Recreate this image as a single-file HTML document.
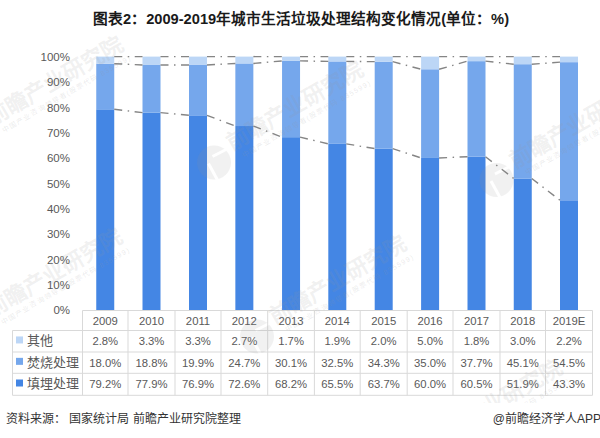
<!DOCTYPE html>
<html lang="zh-CN"><head><meta charset="utf-8">
<style>
html,body{margin:0;padding:0;background:#fff;}
body{width:600px;height:438px;overflow:hidden;position:relative;font-family:"Liberation Sans",sans-serif;}
.title .c{font-weight:600;}
.title{position:absolute;left:1px;top:9px;width:600px;text-align:center;font-weight:bold;font-size:14.67px;color:#1a1a1a;line-height:20px;white-space:nowrap;}
svg{position:absolute;left:0;top:0;}
.ax{font-family:"Liberation Sans",sans-serif;font-size:11.5px;fill:#595959;}
.tb{font-family:"Liberation Sans",sans-serif;font-size:11.3px;fill:#595959;}
.lg{font-family:"Liberation Sans",sans-serif;font-size:13px;fill:#595959;}
.wm{}
.wmc{fill:rgb(150,150,150);fill-opacity:0.13;}
.wmt{font-size:22px;font-weight:bold;fill:rgb(150,150,150);fill-opacity:0.14;}
.wms{font-size:7px;letter-spacing:1.2px;fill:rgb(150,150,150);fill-opacity:0.2;}
.src{position:absolute;left:6px;top:411px;font-size:12px;color:#333;white-space:nowrap;line-height:16px;}
.app{position:absolute;right:-1px;top:411px;font-size:12px;color:#333;white-space:nowrap;line-height:16px;}
</style></head><body>
<div class="title"><span class="c">图表</span>2<span class="c">：</span>2009-2019<span class="c">年城市生活垃圾处理结构变化情况</span>(<span class="c">单位：</span>%)</div>
<svg width="600" height="438" viewBox="0 0 600 438">
<defs><clipPath id="wclip"><rect x="0" y="0" width="600" height="403"/></clipPath></defs>
<rect x="96.25" y="109.31" width="18.0" height="200.69" fill="#4486E4"/>
<rect x="96.25" y="63.70" width="18.0" height="45.61" fill="#75A7EC"/>
<rect x="96.25" y="56.60" width="18.0" height="7.10" fill="#BCD6F6"/>
<rect x="142.50" y="112.60" width="18.0" height="197.40" fill="#4486E4"/>
<rect x="142.50" y="64.96" width="18.0" height="47.64" fill="#75A7EC"/>
<rect x="142.50" y="56.60" width="18.0" height="8.36" fill="#BCD6F6"/>
<rect x="189.00" y="115.33" width="18.0" height="194.67" fill="#4486E4"/>
<rect x="189.00" y="64.95" width="18.0" height="50.38" fill="#75A7EC"/>
<rect x="189.00" y="56.60" width="18.0" height="8.35" fill="#BCD6F6"/>
<rect x="235.35" y="126.03" width="18.0" height="183.97" fill="#4486E4"/>
<rect x="235.35" y="63.44" width="18.0" height="62.59" fill="#75A7EC"/>
<rect x="235.35" y="56.60" width="18.0" height="6.84" fill="#BCD6F6"/>
<rect x="282.05" y="137.18" width="18.0" height="172.82" fill="#4486E4"/>
<rect x="282.05" y="60.91" width="18.0" height="76.27" fill="#75A7EC"/>
<rect x="282.05" y="56.60" width="18.0" height="4.31" fill="#BCD6F6"/>
<rect x="328.30" y="143.86" width="18.0" height="166.14" fill="#4486E4"/>
<rect x="328.30" y="61.42" width="18.0" height="82.44" fill="#75A7EC"/>
<rect x="328.30" y="56.60" width="18.0" height="4.82" fill="#BCD6F6"/>
<rect x="374.70" y="148.58" width="18.0" height="161.42" fill="#4486E4"/>
<rect x="374.70" y="61.67" width="18.0" height="86.92" fill="#75A7EC"/>
<rect x="374.70" y="56.60" width="18.0" height="5.07" fill="#BCD6F6"/>
<rect x="421.10" y="157.96" width="18.0" height="152.04" fill="#4486E4"/>
<rect x="421.10" y="69.27" width="18.0" height="88.69" fill="#75A7EC"/>
<rect x="421.10" y="56.60" width="18.0" height="12.67" fill="#BCD6F6"/>
<rect x="467.50" y="156.69" width="18.0" height="153.31" fill="#4486E4"/>
<rect x="467.50" y="61.16" width="18.0" height="95.53" fill="#75A7EC"/>
<rect x="467.50" y="56.60" width="18.0" height="4.56" fill="#BCD6F6"/>
<rect x="513.75" y="178.49" width="18.0" height="131.51" fill="#4486E4"/>
<rect x="513.75" y="64.20" width="18.0" height="114.28" fill="#75A7EC"/>
<rect x="513.75" y="56.60" width="18.0" height="7.60" fill="#BCD6F6"/>
<rect x="560.00" y="200.28" width="18.0" height="109.72" fill="#4486E4"/>
<rect x="560.00" y="62.17" width="18.0" height="138.10" fill="#75A7EC"/>
<rect x="560.00" y="56.60" width="18.0" height="5.57" fill="#BCD6F6"/>
<line x1="114.25" y1="109.31" x2="142.50" y2="112.60" stroke="#858585" stroke-width="1.4" stroke-dasharray="8 5.5 1.5 5.5"/>
<line x1="114.25" y1="63.70" x2="142.50" y2="64.96" stroke="#858585" stroke-width="1.4" stroke-dasharray="8 5.5 1.5 5.5"/>
<line x1="114.25" y1="56.60" x2="142.50" y2="56.60" stroke="#858585" stroke-width="1.4" stroke-dasharray="8 5.5 1.5 5.5"/>
<line x1="160.50" y1="112.60" x2="189.00" y2="115.33" stroke="#858585" stroke-width="1.4" stroke-dasharray="8 5.5 1.5 5.5"/>
<line x1="160.50" y1="64.96" x2="189.00" y2="64.95" stroke="#858585" stroke-width="1.4" stroke-dasharray="8 5.5 1.5 5.5"/>
<line x1="160.50" y1="56.60" x2="189.00" y2="56.60" stroke="#858585" stroke-width="1.4" stroke-dasharray="8 5.5 1.5 5.5"/>
<line x1="207.00" y1="115.33" x2="235.35" y2="126.03" stroke="#858585" stroke-width="1.4" stroke-dasharray="8 5.5 1.5 5.5"/>
<line x1="207.00" y1="64.95" x2="235.35" y2="63.44" stroke="#858585" stroke-width="1.4" stroke-dasharray="8 5.5 1.5 5.5"/>
<line x1="207.00" y1="56.60" x2="235.35" y2="56.60" stroke="#858585" stroke-width="1.4" stroke-dasharray="8 5.5 1.5 5.5"/>
<line x1="253.35" y1="126.03" x2="282.05" y2="137.18" stroke="#858585" stroke-width="1.4" stroke-dasharray="8 5.5 1.5 5.5"/>
<line x1="253.35" y1="63.44" x2="282.05" y2="60.91" stroke="#858585" stroke-width="1.4" stroke-dasharray="8 5.5 1.5 5.5"/>
<line x1="253.35" y1="56.60" x2="282.05" y2="56.60" stroke="#858585" stroke-width="1.4" stroke-dasharray="8 5.5 1.5 5.5"/>
<line x1="300.05" y1="137.18" x2="328.30" y2="143.86" stroke="#858585" stroke-width="1.4" stroke-dasharray="8 5.5 1.5 5.5"/>
<line x1="300.05" y1="60.91" x2="328.30" y2="61.42" stroke="#858585" stroke-width="1.4" stroke-dasharray="8 5.5 1.5 5.5"/>
<line x1="300.05" y1="56.60" x2="328.30" y2="56.60" stroke="#858585" stroke-width="1.4" stroke-dasharray="8 5.5 1.5 5.5"/>
<line x1="346.30" y1="143.86" x2="374.70" y2="148.58" stroke="#858585" stroke-width="1.4" stroke-dasharray="8 5.5 1.5 5.5"/>
<line x1="346.30" y1="61.42" x2="374.70" y2="61.67" stroke="#858585" stroke-width="1.4" stroke-dasharray="8 5.5 1.5 5.5"/>
<line x1="346.30" y1="56.60" x2="374.70" y2="56.60" stroke="#858585" stroke-width="1.4" stroke-dasharray="8 5.5 1.5 5.5"/>
<line x1="392.70" y1="148.58" x2="421.10" y2="157.96" stroke="#858585" stroke-width="1.4" stroke-dasharray="8 5.5 1.5 5.5"/>
<line x1="392.70" y1="61.67" x2="421.10" y2="69.27" stroke="#858585" stroke-width="1.4" stroke-dasharray="8 5.5 1.5 5.5"/>
<line x1="392.70" y1="56.60" x2="421.10" y2="56.60" stroke="#858585" stroke-width="1.4" stroke-dasharray="8 5.5 1.5 5.5"/>
<line x1="439.10" y1="157.96" x2="467.50" y2="156.69" stroke="#858585" stroke-width="1.4" stroke-dasharray="8 5.5 1.5 5.5"/>
<line x1="439.10" y1="69.27" x2="467.50" y2="61.16" stroke="#858585" stroke-width="1.4" stroke-dasharray="8 5.5 1.5 5.5"/>
<line x1="439.10" y1="56.60" x2="467.50" y2="56.60" stroke="#858585" stroke-width="1.4" stroke-dasharray="8 5.5 1.5 5.5"/>
<line x1="485.50" y1="156.69" x2="513.75" y2="178.49" stroke="#858585" stroke-width="1.4" stroke-dasharray="8 5.5 1.5 5.5"/>
<line x1="485.50" y1="61.16" x2="513.75" y2="64.20" stroke="#858585" stroke-width="1.4" stroke-dasharray="8 5.5 1.5 5.5"/>
<line x1="485.50" y1="56.60" x2="513.75" y2="56.60" stroke="#858585" stroke-width="1.4" stroke-dasharray="8 5.5 1.5 5.5"/>
<line x1="531.75" y1="178.49" x2="560.00" y2="200.28" stroke="#858585" stroke-width="1.4" stroke-dasharray="8 5.5 1.5 5.5"/>
<line x1="531.75" y1="64.20" x2="560.00" y2="62.17" stroke="#858585" stroke-width="1.4" stroke-dasharray="8 5.5 1.5 5.5"/>
<line x1="531.75" y1="56.60" x2="560.00" y2="56.60" stroke="#858585" stroke-width="1.4" stroke-dasharray="8 5.5 1.5 5.5"/>
<text x="70" y="314.40" text-anchor="end" class="ax">0%</text>
<text x="70" y="289.06" text-anchor="end" class="ax">10%</text>
<text x="70" y="263.72" text-anchor="end" class="ax">20%</text>
<text x="70" y="238.38" text-anchor="end" class="ax">30%</text>
<text x="70" y="213.04" text-anchor="end" class="ax">40%</text>
<text x="70" y="187.70" text-anchor="end" class="ax">50%</text>
<text x="70" y="162.36" text-anchor="end" class="ax">60%</text>
<text x="70" y="137.02" text-anchor="end" class="ax">70%</text>
<text x="70" y="111.68" text-anchor="end" class="ax">80%</text>
<text x="70" y="86.34" text-anchor="end" class="ax">90%</text>
<text x="70" y="61.00" text-anchor="end" class="ax">100%</text>
<line x1="82.5" y1="310.5" x2="592.5" y2="310.5" stroke="#D9D9D9" stroke-width="1"/>
<line x1="12.5" y1="330.5" x2="592.5" y2="330.5" stroke="#D9D9D9" stroke-width="1"/>
<line x1="12.5" y1="352.0" x2="592.5" y2="352.0" stroke="#D9D9D9" stroke-width="1"/>
<line x1="12.5" y1="373.3" x2="592.5" y2="373.3" stroke="#D9D9D9" stroke-width="1"/>
<line x1="12.5" y1="395.3" x2="592.5" y2="395.3" stroke="#D9D9D9" stroke-width="1"/>
<line x1="12.5" y1="330.5" x2="12.5" y2="395.3" stroke="#D9D9D9" stroke-width="1"/>
<line x1="82.50" y1="310.5" x2="82.50" y2="395.3" stroke="#D9D9D9" stroke-width="1"/>
<line x1="128.00" y1="310.5" x2="128.00" y2="395.3" stroke="#D9D9D9" stroke-width="1"/>
<line x1="175.00" y1="310.5" x2="175.00" y2="395.3" stroke="#D9D9D9" stroke-width="1"/>
<line x1="221.00" y1="310.5" x2="221.00" y2="395.3" stroke="#D9D9D9" stroke-width="1"/>
<line x1="267.70" y1="310.5" x2="267.70" y2="395.3" stroke="#D9D9D9" stroke-width="1"/>
<line x1="314.40" y1="310.5" x2="314.40" y2="395.3" stroke="#D9D9D9" stroke-width="1"/>
<line x1="360.20" y1="310.5" x2="360.20" y2="395.3" stroke="#D9D9D9" stroke-width="1"/>
<line x1="407.20" y1="310.5" x2="407.20" y2="395.3" stroke="#D9D9D9" stroke-width="1"/>
<line x1="453.00" y1="310.5" x2="453.00" y2="395.3" stroke="#D9D9D9" stroke-width="1"/>
<line x1="500.00" y1="310.5" x2="500.00" y2="395.3" stroke="#D9D9D9" stroke-width="1"/>
<line x1="545.50" y1="310.5" x2="545.50" y2="395.3" stroke="#D9D9D9" stroke-width="1"/>
<line x1="592.50" y1="310.5" x2="592.50" y2="395.3" stroke="#D9D9D9" stroke-width="1"/>
<text x="105.25" y="324.50" text-anchor="middle" class="tb">2009</text>
<text x="151.50" y="324.50" text-anchor="middle" class="tb">2010</text>
<text x="198.00" y="324.50" text-anchor="middle" class="tb">2011</text>
<text x="244.35" y="324.50" text-anchor="middle" class="tb">2012</text>
<text x="291.05" y="324.50" text-anchor="middle" class="tb">2013</text>
<text x="337.30" y="324.50" text-anchor="middle" class="tb">2014</text>
<text x="383.70" y="324.50" text-anchor="middle" class="tb">2015</text>
<text x="430.10" y="324.50" text-anchor="middle" class="tb">2016</text>
<text x="476.50" y="324.50" text-anchor="middle" class="tb">2017</text>
<text x="522.75" y="324.50" text-anchor="middle" class="tb">2018</text>
<text x="569.00" y="324.50" text-anchor="middle" class="tb">2019E</text>
<rect x="16" y="336.45" width="7" height="7" fill="#BCD6F6"/>
<text x="27" y="345.25" class="lg">其他</text>
<text x="105.25" y="345.25" text-anchor="middle" class="tb">2.8%</text>
<text x="151.50" y="345.25" text-anchor="middle" class="tb">3.3%</text>
<text x="198.00" y="345.25" text-anchor="middle" class="tb">3.3%</text>
<text x="244.35" y="345.25" text-anchor="middle" class="tb">2.7%</text>
<text x="291.05" y="345.25" text-anchor="middle" class="tb">1.7%</text>
<text x="337.30" y="345.25" text-anchor="middle" class="tb">1.9%</text>
<text x="383.70" y="345.25" text-anchor="middle" class="tb">2.0%</text>
<text x="430.10" y="345.25" text-anchor="middle" class="tb">5.0%</text>
<text x="476.50" y="345.25" text-anchor="middle" class="tb">1.8%</text>
<text x="522.75" y="345.25" text-anchor="middle" class="tb">3.0%</text>
<text x="569.00" y="345.25" text-anchor="middle" class="tb">2.2%</text>
<rect x="16" y="357.85" width="7" height="7" fill="#75A7EC"/>
<text x="27" y="366.65" class="lg">焚烧处理</text>
<text x="105.25" y="366.65" text-anchor="middle" class="tb">18.0%</text>
<text x="151.50" y="366.65" text-anchor="middle" class="tb">18.8%</text>
<text x="198.00" y="366.65" text-anchor="middle" class="tb">19.9%</text>
<text x="244.35" y="366.65" text-anchor="middle" class="tb">24.7%</text>
<text x="291.05" y="366.65" text-anchor="middle" class="tb">30.1%</text>
<text x="337.30" y="366.65" text-anchor="middle" class="tb">32.5%</text>
<text x="383.70" y="366.65" text-anchor="middle" class="tb">34.3%</text>
<text x="430.10" y="366.65" text-anchor="middle" class="tb">35.0%</text>
<text x="476.50" y="366.65" text-anchor="middle" class="tb">37.7%</text>
<text x="522.75" y="366.65" text-anchor="middle" class="tb">45.1%</text>
<text x="569.00" y="366.65" text-anchor="middle" class="tb">54.5%</text>
<rect x="16" y="379.50" width="7" height="7" fill="#4486E4"/>
<text x="27" y="388.30" class="lg">填埋处理</text>
<text x="105.25" y="388.30" text-anchor="middle" class="tb">79.2%</text>
<text x="151.50" y="388.30" text-anchor="middle" class="tb">77.9%</text>
<text x="198.00" y="388.30" text-anchor="middle" class="tb">76.9%</text>
<text x="244.35" y="388.30" text-anchor="middle" class="tb">72.6%</text>
<text x="291.05" y="388.30" text-anchor="middle" class="tb">68.2%</text>
<text x="337.30" y="388.30" text-anchor="middle" class="tb">65.5%</text>
<text x="383.70" y="388.30" text-anchor="middle" class="tb">63.7%</text>
<text x="430.10" y="388.30" text-anchor="middle" class="tb">60.0%</text>
<text x="476.50" y="388.30" text-anchor="middle" class="tb">60.5%</text>
<text x="522.75" y="388.30" text-anchor="middle" class="tb">51.9%</text>
<text x="569.00" y="388.30" text-anchor="middle" class="tb">43.3%</text>
<g clip-path="url(#wclip)">
<mask id="wmn80_1260" maskUnits="userSpaceOnUse" x="0" y="0" width="600" height="438"><rect x="0" y="0" width="600" height="438" fill="#fff"/><path d="M-31.5,138.5 L-22.5,155.0 M-27.5,131.5 L-12.0,123.5" stroke="#000" stroke-width="3" fill="none"/></mask>
<circle cx="-26.0" cy="137.5" r="17" class="wmc" mask="url(#wmn80_1260)"/>
<g transform="translate(-8.0,126.0) rotate(-30)" class="wm">
<text x="0" y="0" class="wmt">前瞻产业研究院</text>
<text x="7" y="12" class="wms">中国产业咨询领导者(股票代码 835599)</text>
</g></g>
<g clip-path="url(#wclip)">
<mask id="wm2320_1510" maskUnits="userSpaceOnUse" x="0" y="0" width="600" height="438"><rect x="0" y="0" width="600" height="438" fill="#fff"/><path d="M208.5,163.5 L217.5,180.0 M212.5,156.5 L228.0,148.5" stroke="#000" stroke-width="3" fill="none"/></mask>
<circle cx="214.0" cy="162.5" r="17" class="wmc" mask="url(#wm2320_1510)"/>
<g transform="translate(232.0,151.0) rotate(-30)" class="wm">
<text x="0" y="0" class="wmt">前瞻产业研究院</text>
<text x="7" y="12" class="wms">中国产业咨询领导者(股票代码 835599)</text>
</g></g>
<g clip-path="url(#wclip)">
<mask id="wm5145_1685" maskUnits="userSpaceOnUse" x="0" y="0" width="600" height="438"><rect x="0" y="0" width="600" height="438" fill="#fff"/><path d="M491.0,181.0 L500.0,197.5 M495.0,174.0 L510.5,166.0" stroke="#000" stroke-width="3" fill="none"/></mask>
<circle cx="496.5" cy="180.0" r="17" class="wmc" mask="url(#wm5145_1685)"/>
<g transform="translate(514.5,168.5) rotate(-30)" class="wm">
<text x="0" y="0" class="wmt">前瞻产业研究院</text>
<text x="7" y="12" class="wms">中国产业咨询领导者(股票代码 835599)</text>
</g></g>
<g clip-path="url(#wclip)">
<mask id="wmn90_3180" maskUnits="userSpaceOnUse" x="0" y="0" width="600" height="438"><rect x="0" y="0" width="600" height="438" fill="#fff"/><path d="M-32.5,330.5 L-23.5,347.0 M-28.5,323.5 L-13.0,315.5" stroke="#000" stroke-width="3" fill="none"/></mask>
<circle cx="-27.0" cy="329.5" r="17" class="wmc" mask="url(#wmn90_3180)"/>
<g transform="translate(-9.0,318.0) rotate(-30)" class="wm">
<text x="0" y="0" class="wmt">前瞻产业研究院</text>
<text x="7" y="12" class="wms">中国产业咨询领导者(股票代码 835599)</text>
</g></g>
<g clip-path="url(#wclip)">
<mask id="wm2750_3250" maskUnits="userSpaceOnUse" x="0" y="0" width="600" height="438"><rect x="0" y="0" width="600" height="438" fill="#fff"/><path d="M251.5,337.5 L260.5,354.0 M255.5,330.5 L271.0,322.5" stroke="#000" stroke-width="3" fill="none"/></mask>
<circle cx="257.0" cy="336.5" r="17" class="wmc" mask="url(#wm2750_3250)"/>
<g transform="translate(275.0,325.0) rotate(-30)" class="wm">
<text x="0" y="0" class="wmt">前瞻产业研究院</text>
<text x="7" y="12" class="wms">中国产业咨询领导者(股票代码 835599)</text>
</g></g>
<g clip-path="url(#wclip)">
<mask id="wm4310_4490" maskUnits="userSpaceOnUse" x="0" y="0" width="600" height="438"><rect x="0" y="0" width="600" height="438" fill="#fff"/><path d="M407.5,461.5 L416.5,478.0 M411.5,454.5 L427.0,446.5" stroke="#000" stroke-width="3" fill="none"/></mask>
<circle cx="413.0" cy="460.5" r="17" class="wmc" mask="url(#wm4310_4490)"/>
<g transform="translate(431.0,449.0) rotate(-30)" class="wm">
<text x="0" y="0" class="wmt">前瞻产业研究院</text>
<text x="7" y="12" class="wms">中国产业咨询领导者(股票代码 835599)</text>
</g></g>
</svg>
<div class="src">资料来源： 国家统计局 前瞻产业研究院整理</div>
<div class="app">@前瞻经济学人APP</div>
</body></html>
